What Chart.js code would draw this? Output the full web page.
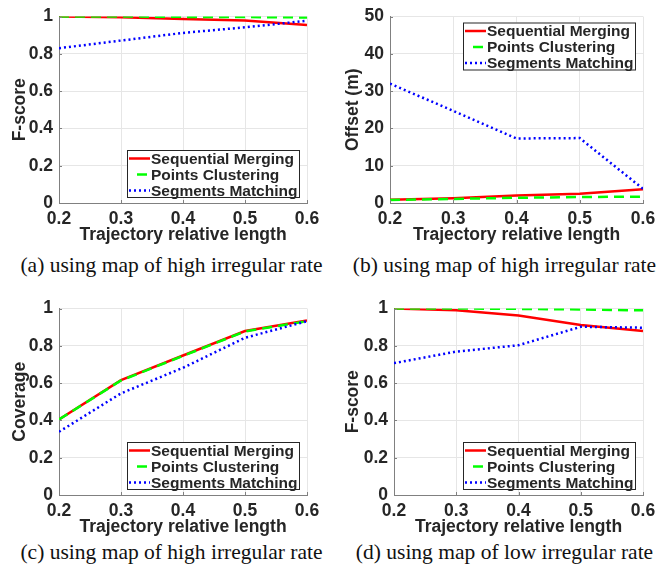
<!DOCTYPE html>
<html>
<head>
<meta charset="utf-8">
<script src="https://cdn.jsdelivr.net/npm/chart.js@4/dist/chart.umd.min.js"></script>
<style>
    body { margin: 0; background: #fff; }
    #page { position: relative; width: 667px; height: 571px; overflow: hidden; }
    canvas { position: absolute; }
    .caption {
        position: absolute;
        width: 333px;
        text-align: center;
        font-family: "Liberation Serif", "Times New Roman", serif;
        font-size: 21.5px;
        line-height: 24px;
        color: #111;
        white-space: nowrap;
    }
</style>
</head>
<body>
<div id="page">
    <canvas id="chartA" width="333" height="247" style="left:0;top:0"></canvas>
    <canvas id="chartB" width="334" height="247" style="left:333px;top:0"></canvas>
    <canvas id="chartC" width="333" height="247" style="left:0;top:292px"></canvas>
    <canvas id="chartD" width="334" height="247" style="left:333px;top:292px"></canvas>
    <div class="caption" style="left:5px;top:253px">(a) using map of high irregular rate</div>
    <div class="caption" style="left:338px;top:253px">(b) using map of high irregular rate</div>
    <div class="caption" style="left:5px;top:540px">(c) using map of high irregular rate</div>
    <div class="caption" style="left:338px;top:540px">(d) using map of low irregular rate</div>
</div>
<script>
    var seriesNames = ['Sequential Merging', 'Points Clustering', 'Segments Matching'];
    var lengths = [0.2, 0.3, 0.4, 0.5, 0.6];

    var xTicks = [0.2, 0.3, 0.4, 0.5, 0.6];
    var scoreTicks = [0, 0.2, 0.4, 0.6, 0.8, 1];
    var offsetTicks = [0, 10, 20, 30, 40, 50];

    // (a) F-score, high irregular rate
    var fscoreHighMerging = [1.0, 0.996, 0.986, 0.979, 0.954];
    var fscoreHighClustering = [1.0, 1.0, 0.998, 0.997, 0.995];
    var fscoreHighMatching = [0.83, 0.871, 0.912, 0.942, 0.977];

    // (b) Offset, high irregular rate
    var offsetHighMerging = [0.9, 1.3, 2.0, 2.5, 3.7];
    var offsetHighClustering = [0.8, 1.1, 1.4, 1.6, 1.7];
    var offsetHighMatching = [32.0, 24.7, 17.3, 17.4, 3.8];

    // (c) Coverage, high irregular rate
    var coverageHighMerging = [0.405, 0.616, 0.748, 0.879, 0.936];
    var coverageHighClustering = [0.405, 0.614, 0.746, 0.877, 0.932];
    var coverageHighMatching = [0.339, 0.545, 0.682, 0.843, 0.932];

    // (d) F-score, low irregular rate
    var fscoreLowMerging = [1.0, 0.99, 0.963, 0.911, 0.879];
    var fscoreLowClustering = [1.0, 1.0, 0.998, 0.995, 0.99];
    var fscoreLowMatching = [0.707, 0.769, 0.803, 0.902, 0.897];

    var fontFamily = '"Liberation Sans", Arial, Helvetica, sans-serif';
    var textColor = '#262626';
    var axisColor = '#808080';
    var gridColor = '#e6e6e6';

    var lineStyles = [
        { color: '#ff0000', width: 2.5, dash: [], order: 3 },
        { color: '#00ff00', width: 2.5, dash: [10, 6], order: 2 },
        { color: '#0000ff', width: 2.5, dash: [2, 3], order: 1 }
    ];

    var toPoints = function (values) {
        return values.map(function (v, i) {
            return { x: lengths[i], y: v };
        });
    };

    var tickLabel = function (v) {
        return String(+Number(v).toFixed(2));
    };

    // small inward tick marks on the left and bottom axes
    var innerTicksPlugin = {
        id: 'innerTicks',
        afterDraw: function (chart) {
            var ctx = chart.ctx;
            var area = chart.chartArea;
            ctx.save();
            ctx.strokeStyle = axisColor;
            ctx.lineWidth = 1;
            chart.scales.x.ticks.forEach(function (t) {
                var px = Math.round(chart.scales.x.getPixelForValue(t.value)) + 0.5;
                ctx.beginPath();
                ctx.moveTo(px, area.bottom);
                ctx.lineTo(px, area.bottom - 3);
                ctx.stroke();
            });
            chart.scales.y.ticks.forEach(function (t) {
                var py = Math.round(chart.scales.y.getPixelForValue(t.value)) + 0.5;
                ctx.beginPath();
                ctx.moveTo(area.left, py);
                ctx.lineTo(area.left + 3, py);
                ctx.stroke();
            });
            ctx.restore();
        }
    };

    // boxed legend drawn inside the plot area
    var boxLegendPlugin = {
        id: 'boxLegend',
        afterDraw: function (chart, args, opts) {
            var ctx = chart.ctx;
            var area = chart.chartArea;
            var w = 173, h = 48;
            var left = area.right - 7 - w;
            var top = opts.place === 'top' ? area.top + 6 : area.bottom - 5 - h;

            ctx.save();
            ctx.fillStyle = '#ffffff';
            ctx.fillRect(left, top, w, h);
            ctx.strokeStyle = textColor;
            ctx.lineWidth = 1;
            ctx.strokeRect(left + 0.5, top + 0.5, w - 1, h - 1);

            ctx.font = 'bold 15.5px ' + fontFamily;
            ctx.textBaseline = 'middle';
            chart.data.datasets.forEach(function (ds, i) {
                var y = top + 8.5 + i * 16;
                ctx.strokeStyle = ds.borderColor;
                ctx.lineWidth = ds.borderWidth;
                ctx.beginPath();
                if (ds.borderDash.length && ds.borderDash[0] > 5) {
                    ctx.moveTo(left + 10, y);
                    ctx.lineTo(left + 20, y);
                } else {
                    ctx.setLineDash(ds.borderDash);
                    ctx.moveTo(left + 2, y);
                    ctx.lineTo(left + 23, y);
                }
                ctx.stroke();
                ctx.setLineDash([]);
                ctx.fillStyle = textColor;
                ctx.fillText(ds.label, left + 24, y + 1);
            });
            ctx.restore();
        }
    };

    var makeChart = function (canvasId, series, yTicks, yTitle, yWidth, rightPad, legendPlace) {
        var ctx = document.getElementById(canvasId).getContext('2d');

        var datasets = series.map(function (values, i) {
            var st = lineStyles[i];
            return {
                label: seriesNames[i],
                data: toPoints(values),
                borderColor: st.color,
                backgroundColor: st.color,
                borderWidth: st.width,
                borderDash: st.dash,
                pointRadius: 0,
                tension: 0,
                fill: false,
                order: st.order
            };
        });

        var tickFont = { family: fontFamily, size: 17.5, weight: 'bold' };

        return new Chart(ctx, {
            type: 'line',
            data: { datasets: datasets },
            options: {
                responsive: false,
                animation: false,
                devicePixelRatio: 1,
                layout: { padding: { left: 0, right: rightPad, top: 16, bottom: 0 } },
                plugins: {
                    legend: { display: false },
                    tooltip: { enabled: false },
                    boxLegend: { place: legendPlace }
                },
                scales: {
                    x: {
                        type: 'linear',
                        min: xTicks[0],
                        max: xTicks[xTicks.length - 1],
                        afterBuildTicks: function (scale) {
                            scale.ticks = xTicks.map(function (v) { return { value: v }; });
                        },
                        afterFit: function (scale) { scale.height = 44; },
                        ticks: {
                            callback: tickLabel,
                            font: tickFont,
                            color: textColor,
                            padding: 6,
                            maxRotation: 0
                        },
                        grid: { color: gridColor, drawTicks: false },
                        border: { color: axisColor, width: 1 },
                        title: {
                            display: true,
                            text: 'Trajectory relative length',
                            font: tickFont,
                            color: textColor,
                            padding: { top: 0, bottom: 1 }
                        }
                    },
                    y: {
                        type: 'linear',
                        min: yTicks[0],
                        max: yTicks[yTicks.length - 1],
                        afterBuildTicks: function (scale) {
                            scale.ticks = yTicks.map(function (v) { return { value: v }; });
                        },
                        afterFit: function (scale) { scale.width = yWidth; },
                        ticks: {
                            callback: tickLabel,
                            font: tickFont,
                            color: textColor,
                            padding: 6
                        },
                        grid: { color: gridColor, drawTicks: false },
                        border: { color: axisColor, width: 1 },
                        title: {
                            display: true,
                            text: yTitle,
                            font: tickFont,
                            color: textColor,
                            padding: { top: 10, bottom: 0 }
                        }
                    }
                }
            },
            plugins: [innerTicksPlugin, boxLegendPlugin]
        });
    };

    makeChart('chartA', [fscoreHighMerging, fscoreHighClustering, fscoreHighMatching], scoreTicks, 'F-score', 59, 26, 'bottom');
    makeChart('chartB', [offsetHighMerging, offsetHighClustering, offsetHighMatching], offsetTicks, 'Offset (m)', 57, 24, 'top');
    makeChart('chartC', [coverageHighMerging, coverageHighClustering, coverageHighMatching], scoreTicks, 'Coverage', 59, 26, 'bottom');
    makeChart('chartD', [fscoreLowMerging, fscoreLowClustering, fscoreLowMatching], scoreTicks, 'F-score', 61, 24, 'bottom');
</script>
</body>
</html>
